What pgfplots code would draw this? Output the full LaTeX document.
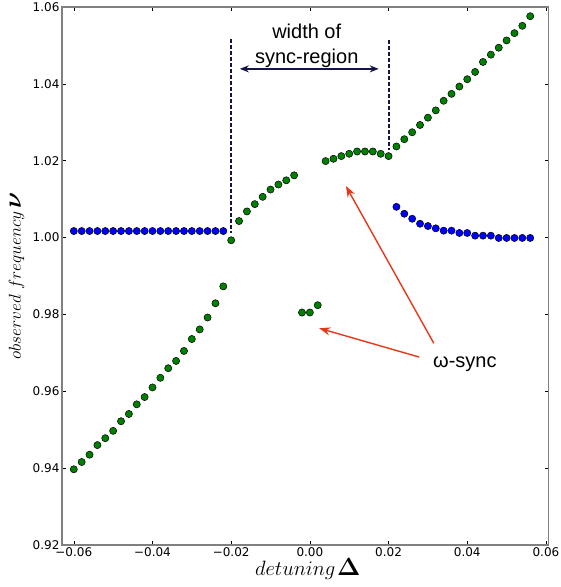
\documentclass[border=0pt]{standalone}
\usepackage{pgfplots}
\pgfplotsset{compat=1.18}
\usepackage{fontspec}
\setmainfont{DejaVu Sans}
\newfontfamily\annfont{Liberation Sans}
\usetikzlibrary{arrows.meta}
\definecolor{mplgreen}{RGB}{0,128,0}
\definecolor{mplblue}{RGB}{0,0,255}
\definecolor{navy}{RGB}{20,20,70}
\definecolor{annred}{RGB}{232,55,25}
\begin{document}
\begin{tikzpicture}
\useasboundingbox (-62pt,-42pt) rectangle (499pt,545pt);
\begin{axis}[
  scale only axis, width=486.7pt, height=538pt,
  xmin=-0.063, xmax=0.0607, ymin=0.92, ymax=1.06,
  scaled x ticks=false, scaled y ticks=false,
  xtick={-0.06,-0.04,-0.02,0,0.02,0.04,0.06},
  xticklabels={−0.06,−0.04,−0.02,0.00,0.02,0.04,0.06},
  ytick={0.92,0.94,0.96,0.98,1.00,1.02,1.04,1.06},
  yticklabels={0.92,0.94,0.96,0.98,1.00,1.02,1.04,1.06},
  tick align=inside, tick pos=both, xticklabel pos=left, yticklabel pos=left,
  major tick length=4pt,
  axis line style={draw=gray, line width=1.3pt},
  tick style={black, line width=0.6pt},
  tick label style={font=\fontsize{12}{12}\selectfont},
  xticklabel style={yshift=1pt},
  yticklabel style={xshift=1pt},
  clip=false,
]
% blue left
\addplot[only marks, mark=*, mark size=3.6pt, mark options={fill=mplblue, draw=black, line width=0.5pt}] coordinates {
(-0.060,1.0017) (-0.058,1.0017) (-0.056,1.0017) (-0.054,1.0017) (-0.052,1.0017)
(-0.050,1.0017) (-0.048,1.0017) (-0.046,1.0017) (-0.044,1.0017) (-0.042,1.0017)
(-0.040,1.0017) (-0.038,1.0017) (-0.036,1.0017) (-0.034,1.0017) (-0.032,1.0017)
(-0.030,1.0017) (-0.028,1.0017) (-0.026,1.0017) (-0.024,1.0017) (-0.022,1.0017)
};
% blue right
\addplot[only marks, mark=*, mark size=3.6pt, mark options={fill=mplblue, draw=black, line width=0.5pt}] coordinates {
(0.022,1.0080) (0.024,1.0062) (0.026,1.0049) (0.028,1.0036) (0.030,1.0030)
(0.032,1.0024) (0.034,1.0018) (0.036,1.0018) (0.038,1.0012) (0.040,1.0012)
(0.042,1.0005) (0.044,1.0005) (0.046,1.0005) (0.048,0.9999) (0.050,0.9999)
(0.052,0.9999) (0.054,0.9999) (0.056,0.9999)
};
% green lower left
\addplot[only marks, mark=*, mark size=3.6pt, mark options={fill=mplgreen, draw=black, line width=0.5pt}] coordinates {
(-0.060,0.9397) (-0.058,0.9416) (-0.056,0.9435) (-0.054,0.9460) (-0.052,0.9478)
(-0.050,0.9497) (-0.048,0.9522) (-0.046,0.9541) (-0.044,0.9566) (-0.042,0.9585)
(-0.040,0.9610) (-0.038,0.9635) (-0.036,0.9660) (-0.034,0.9679) (-0.032,0.9705)
(-0.030,0.9736) (-0.028,0.9761) (-0.026,0.9792) (-0.024,0.9829) (-0.022,0.9873)
};
% green middle
\addplot[only marks, mark=*, mark size=3.6pt, mark options={fill=mplgreen, draw=black, line width=0.5pt}] coordinates {
(-0.020,0.9993) (-0.018,1.0043) (-0.016,1.0068) (-0.014,1.0087) (-0.012,1.0106)
(-0.010,1.0125) (-0.008,1.0138) (-0.006,1.0149) (-0.004,1.0162)
(-0.002,0.9805) (0.000,0.9805) (0.002,0.9824)
(0.004,1.0199) (0.006,1.0205) (0.008,1.0212) (0.010,1.0218) (0.012,1.0224)
(0.014,1.0224) (0.016,1.0224) (0.018,1.0218) (0.020,1.0212)
};
% green upper right
\addplot[only marks, mark=*, mark size=3.6pt, mark options={fill=mplgreen, draw=black, line width=0.5pt}] coordinates {
(0.022,1.0237) (0.024,1.0256) (0.026,1.0274) (0.028,1.0293) (0.030,1.0312)
(0.032,1.0331) (0.034,1.0356) (0.036,1.0374) (0.038,1.0393) (0.040,1.0412)
(0.042,1.0431) (0.044,1.0457) (0.046,1.0476) (0.048,1.0494) (0.050,1.0513)
(0.052,1.0532) (0.054,1.0551) (0.056,1.0576)
};
% axis labels
\node[anchor=base, inner sep=0pt] at ([yshift=-30.7pt]axis description cs:0.505,0)
  {{\fontsize{20}{20}\selectfont $detuning$}\,{\fontsize{26}{26}\selectfont\boldmath$\Delta$}};
\node[anchor=base, rotate=90, inner sep=0pt] at ([xshift=-41pt]axis description cs:0,0.5)
  {{\fontsize{18}{18}\selectfont $observed\ frequency$}\ {\fontsize{26}{26}\selectfont\boldmath$\nu$}};
% annotations
\draw[navy, line width=1.4pt, dash pattern=on 4pt off 2pt] (axis cs:-0.020,1.0517) -- (axis cs:-0.020,1.0012);
\draw[navy, line width=1.4pt, dash pattern=on 4pt off 2pt] (axis cs:0.02013,1.0514) -- (axis cs:0.02013,1.0228);
\draw[navy, line width=1.4pt, {Stealth[length=9pt,width=7pt]}-{Stealth[length=9pt,width=7pt]}] (axis cs:-0.0178,1.0439) -- (axis cs:0.0175,1.0439);
\node[anchor=base, inner sep=0pt, font=\annfont\fontsize{20}{20}\selectfont] at (axis cs:-0.0008,1.0517) {width of};
\node[anchor=base, inner sep=0pt, font=\annfont\fontsize{20}{20}\selectfont] at (axis cs:-0.0008,1.0454) {sync-region};
\node[anchor=base, inner sep=0pt, font=\annfont\fontsize{20}{20}\selectfont] at (axis cs:0.0394,0.9661) {ω-sync};
\draw[annred, line width=1.4pt, -{Stealth[length=11pt,width=8pt]}] (axis cs:0.0315,0.9725) -- (axis cs:0.00916,1.0134);
\draw[annred, line width=1.4pt, -{Stealth[length=11pt,width=8pt]}] (axis cs:0.0278,0.9689) -- (axis cs:0.00237,0.9764);
\end{axis}
\end{tikzpicture}
\end{document}
